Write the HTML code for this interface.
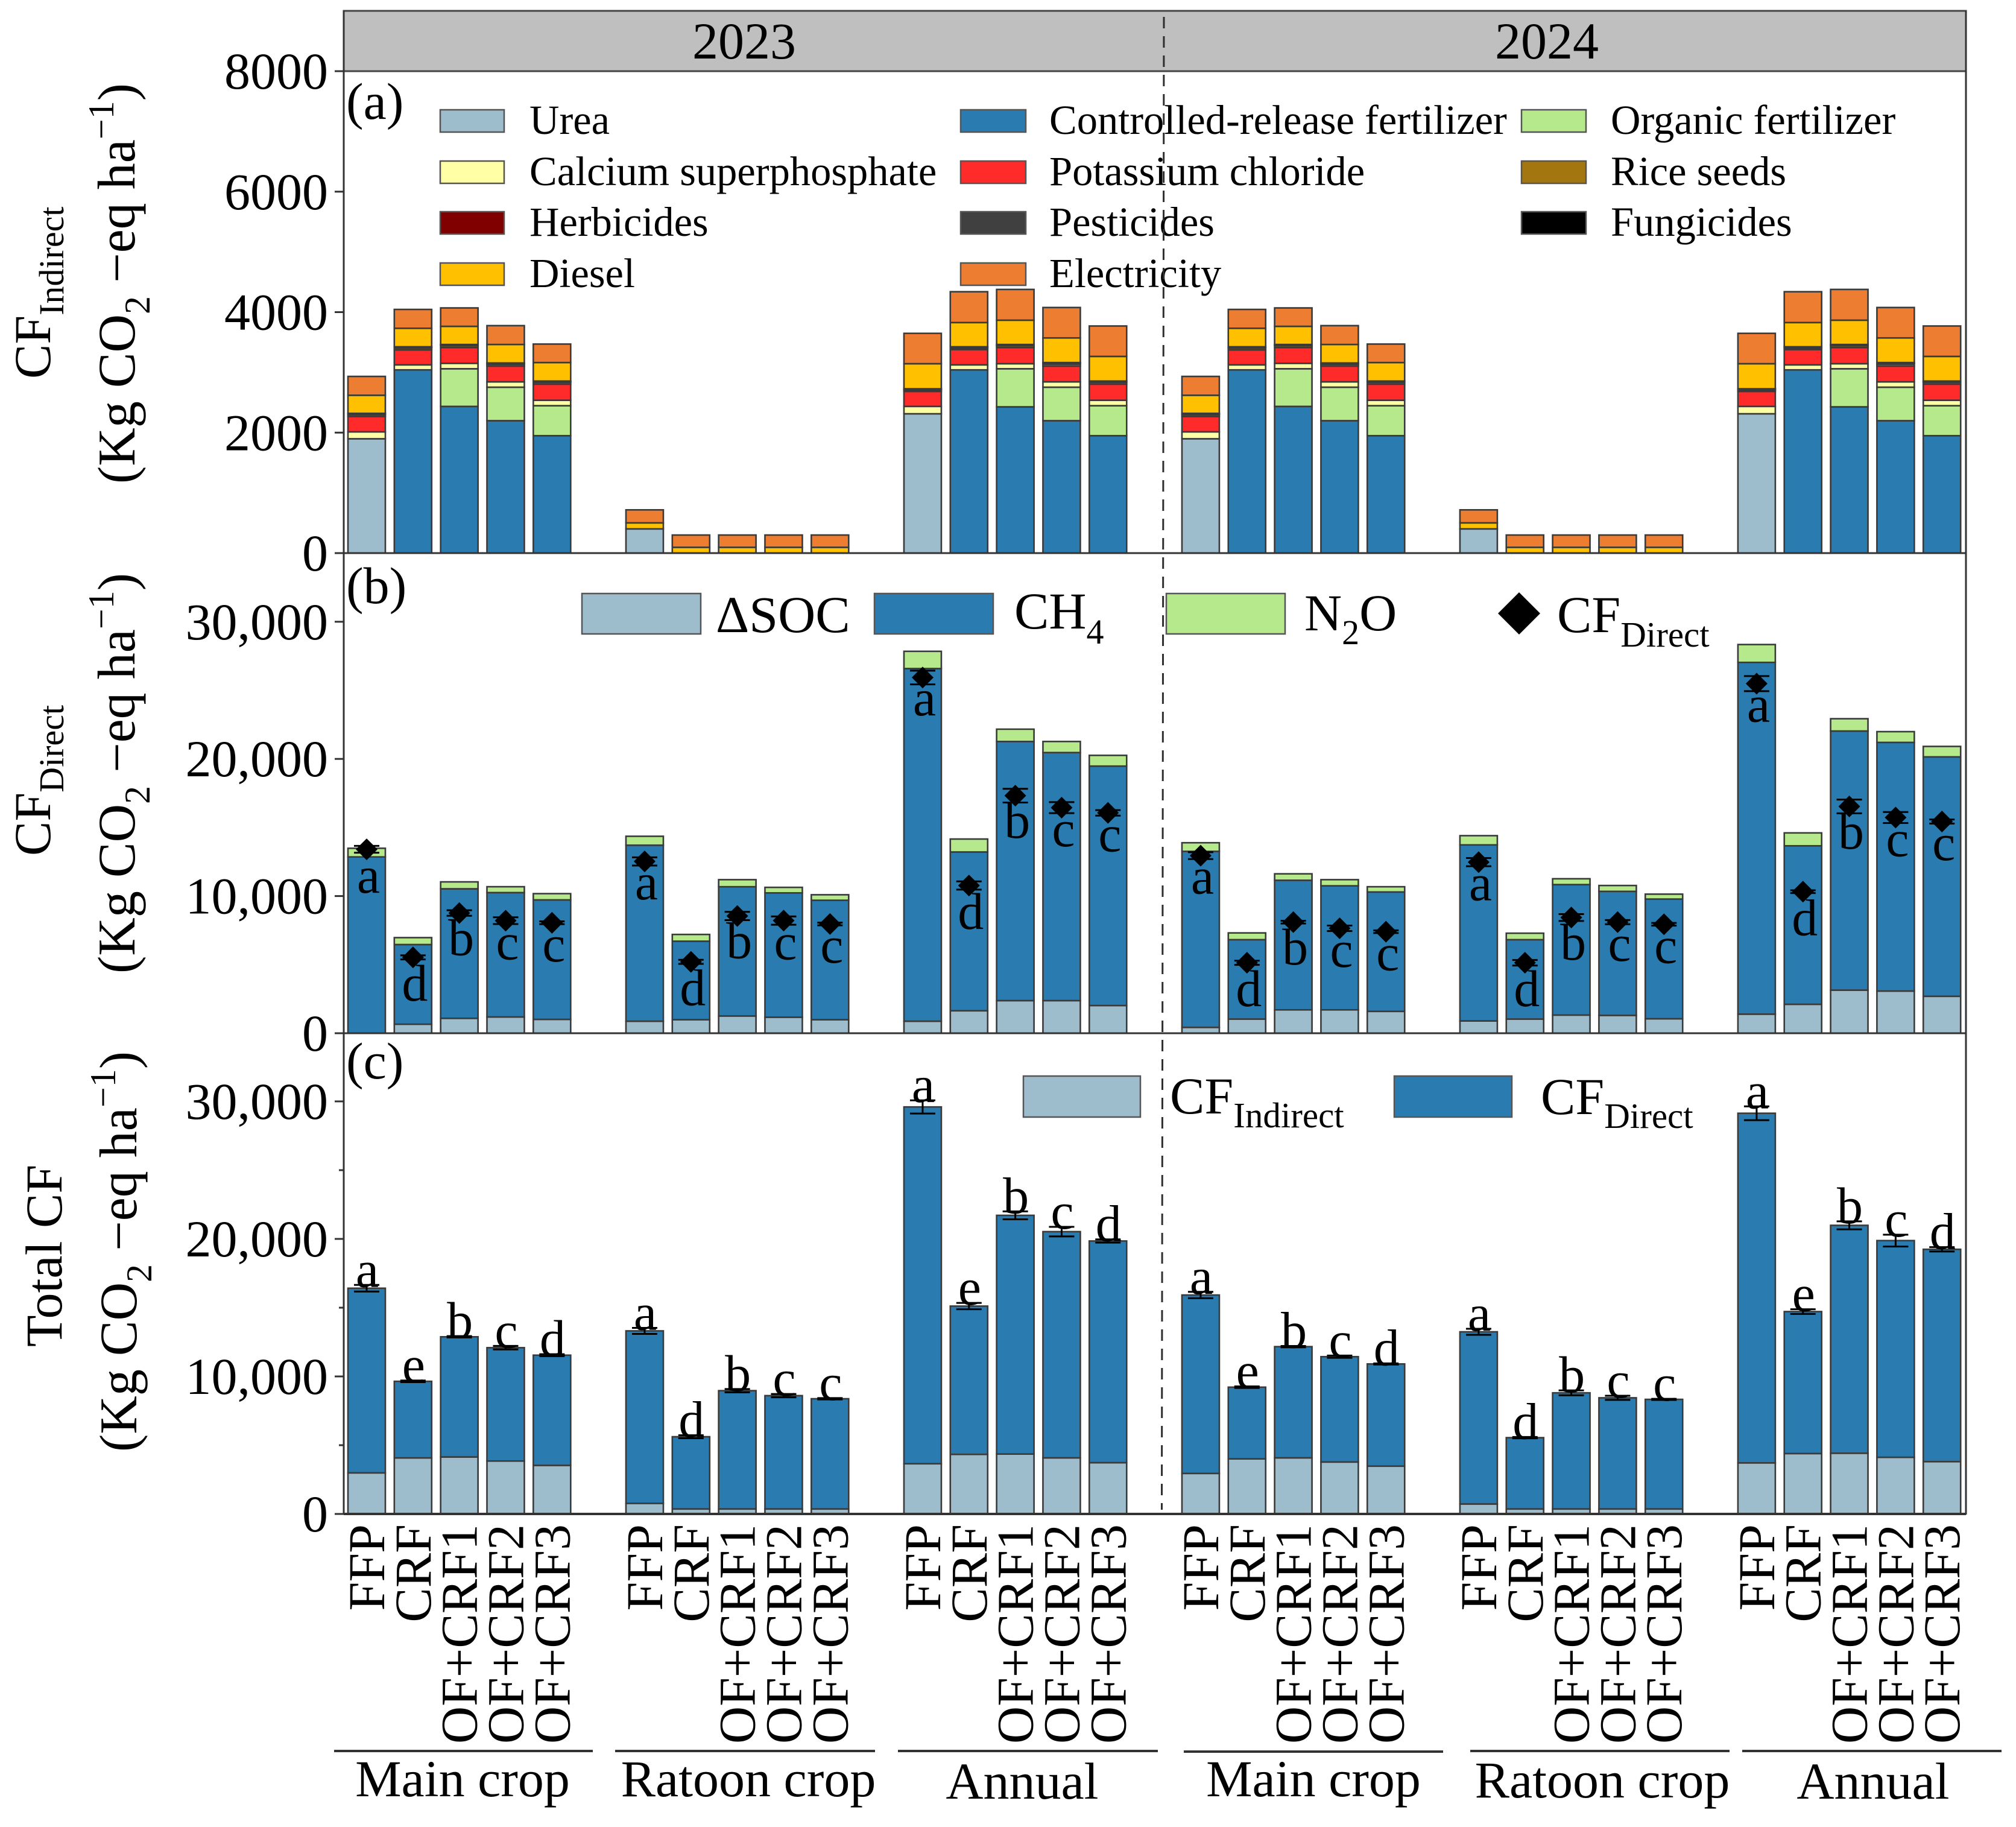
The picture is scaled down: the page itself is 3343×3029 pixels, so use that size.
<!DOCTYPE html>
<html lang="en">
<head>
<meta charset="utf-8">
<title>Carbon footprint stacked bar chart</title>
<style>
html,body{margin:0;padding:0;background:#fff;}
svg{display:block;}
text{font-family:"Liberation Serif",serif;fill:#000;}
</style>
</head>
<body>
<svg id="chart" xmlns="http://www.w3.org/2000/svg" width="3343" height="3029" viewBox="0 0 3343 3029">
  <rect x="0" y="0" width="3343" height="3029" fill="#ffffff"/>
  <g id="bars"></g>

  <g>
    <rect x="570" y="18" width="2690" height="100" fill="#bfbfbf" stroke="#444" stroke-width="3"/>
    <text x="1234" y="97" font-size="86" text-anchor="middle">2023</text>
    <text x="2565" y="97" font-size="86" text-anchor="middle">2024</text>
  </g>

  <g stroke="#333" stroke-width="3" fill="none">
    <line x1="570" y1="18" x2="570" y2="2511"/>
    <line x1="3260" y1="18" x2="3260" y2="2511"/>
    <line x1="570" y1="917" x2="3260" y2="917"/>
    <line x1="570" y1="1713" x2="3260" y2="1713"/>
    <line x1="570" y1="2510" x2="3260" y2="2510" stroke-width="4"/>
  </g>
  <g id="ticks"></g>

  <text x="574" y="197" font-size="86">(a)</text>
  <text x="574" y="1000" font-size="86">(b)</text>
  <text x="574" y="1788" font-size="86">(c)</text>

  <g>
    <text transform="rotate(-90 83 628)" x="83" y="628" font-size="86">CF<tspan font-size="58" dy="22">Indirect</tspan></text>
    <text transform="rotate(-90 223 802)" x="223" y="802" font-size="88">(Kg CO<tspan font-size="60" dy="25">2</tspan><tspan dy="-25"> −eq ha</tspan><tspan font-size="60" dy="-35">−1</tspan><tspan dy="35">)</tspan></text>
  </g>
  <g>
    <text transform="rotate(-90 83 1419)" x="83" y="1419" font-size="86">CF<tspan font-size="58" dy="22">Direct</tspan></text>
    <text transform="rotate(-90 223 1614)" x="223" y="1614" font-size="88">(Kg CO<tspan font-size="60" dy="25">2</tspan><tspan dy="-25"> −eq ha</tspan><tspan font-size="60" dy="-35">−1</tspan><tspan dy="35">)</tspan></text>
  </g>
  <g>
    <text transform="rotate(-90 102 2233)" x="102" y="2233" font-size="86">Total CF</text>
    <text transform="rotate(-90 226 2407)" x="226" y="2407" font-size="88">(Kg CO<tspan font-size="60" dy="25">2</tspan><tspan dy="-25"> −eq ha</tspan><tspan font-size="60" dy="-35">−1</tspan><tspan dy="35">)</tspan></text>
  </g>

  <g>
    <g><rect x="730" y="182" width="106" height="37" fill="#9dbccc" stroke="#555" stroke-width="2.5"/><text x="878" y="222" font-size="68.5">Urea</text></g>
    <g><rect x="730" y="267" width="106" height="37" fill="#ffffa6" stroke="#555" stroke-width="2.5"/><text x="878" y="307" font-size="68.5">Calcium superphosphate</text></g>
    <g><rect x="730" y="351" width="106" height="37" fill="#800000" stroke="#555" stroke-width="2.5"/><text x="878" y="391" font-size="68.5">Herbicides</text></g>
    <g><rect x="730" y="436" width="106" height="37" fill="#ffc000" stroke="#555" stroke-width="2.5"/><text x="878" y="476" font-size="68.5">Diesel</text></g>
    <g><rect x="1593" y="182" width="108" height="37" fill="#2a7cb0" stroke="#555" stroke-width="2.5"/><text x="1740" y="222" font-size="68.5">Controlled-release fertilizer</text></g>
    <g><rect x="1593" y="267" width="108" height="37" fill="#ff2a2a" stroke="#555" stroke-width="2.5"/><text x="1740" y="307" font-size="68.5">Potassium chloride</text></g>
    <g><rect x="1593" y="351" width="108" height="37" fill="#404040" stroke="#555" stroke-width="2.5"/><text x="1740" y="391" font-size="68.5">Pesticides</text></g>
    <g><rect x="1593" y="436" width="108" height="37" fill="#ed7d31" stroke="#555" stroke-width="2.5"/><text x="1740" y="476" font-size="68.5">Electricity</text></g>
    <g><rect x="2523" y="182" width="107" height="37" fill="#b5e98c" stroke="#555" stroke-width="2.5"/><text x="2671" y="222" font-size="68.5">Organic fertilizer</text></g>
    <g><rect x="2523" y="267" width="107" height="37" fill="#a3760f" stroke="#555" stroke-width="2.5"/><text x="2671" y="307" font-size="68.5">Rice seeds</text></g>
    <g><rect x="2523" y="351" width="107" height="37" fill="#000000" stroke="#555" stroke-width="2.5"/><text x="2671" y="391" font-size="68.5">Fungicides</text></g>
  </g>

  <g>
    <g><rect x="965" y="984" width="197" height="67" fill="#9dbccc" stroke="#555" stroke-width="2.5"/><text x="1187" y="1048" font-size="86">ΔSOC</text></g>
    <g><rect x="1450" y="984" width="197" height="67" fill="#2a7cb0" stroke="#555" stroke-width="2.5"/><text x="1682" y="1042" font-size="86">CH<tspan font-size="58" dy="25">4</tspan></text></g>
    <g><rect x="1934" y="984" width="197" height="67" fill="#b5e98c" stroke="#555" stroke-width="2.5"/><text x="2163" y="1045" font-size="86">N<tspan font-size="58" dy="23">2</tspan><tspan dy="-23">O</tspan></text></g>
    <g><polygon points="2484,1017 2519,982 2554,1017 2519,1052" fill="#000"/><text x="2582" y="1048" font-size="86">CF<tspan font-size="59" dy="24">Direct</tspan></text></g>
  </g>

  <g>
    <g><rect x="1697" y="1784" width="194" height="68" fill="#9dbccc" stroke="#555" stroke-width="2.5"/><text x="1940" y="1846" font-size="86">CF<tspan font-size="59" dy="23">Indirect</tspan></text></g>
    <g><rect x="2312" y="1784" width="195" height="68" fill="#2a7cb0" stroke="#555" stroke-width="2.5"/><text x="2555" y="1847" font-size="86">CF<tspan font-size="59" dy="23">Direct</tspan></text></g>
  </g>

  <line x1="1930" y1="28" x2="1926.5" y2="2503" stroke="#2e2e2e" stroke-width="3" stroke-dasharray="19 13"/>

  <g id="xaxis"></g>

  <g stroke="#333" stroke-width="4">
    <line x1="554" y1="2903" x2="983" y2="2903"/>
    <line x1="1020" y1="2903" x2="1451" y2="2903"/>
    <line x1="1489" y1="2903" x2="1920" y2="2903"/>
    <line x1="1963" y1="2904" x2="2393" y2="2904"/>
    <line x1="2438" y1="2903" x2="2868" y2="2903"/>
    <line x1="2889" y1="2903" x2="3319" y2="2903"/>
  </g>
  <g font-size="86" text-anchor="middle">
    <text x="767" y="2978">Main crop</text>
    <text x="1241" y="2978">Ratoon crop</text>
    <text x="1695" y="2982">Annual</text>
    <text x="2178" y="2978">Main crop</text>
    <text x="2657" y="2980">Ratoon crop</text>
    <text x="3106" y="2982">Annual</text>
  </g>
</svg>

<script>
// ---- categories ----
var treatments = ["FFP", "CRF", "OF+CRF1", "OF+CRF2", "OF+CRF3"];

// ---- panel (a) CF indirect, kg CO2-eq/ha, 30 bars ----
var aUrea   = [1898,0,0,0,0, 402,0,0,0,0, 2313,0,0,0,0, 1898,0,0,0,0, 402,0,0,0,0, 2313,0,0,0,0];
var aCrf    = [0,3042,2435,2198,1949, 0,0,0,0,0, 0,3042,2428,2198,1949, 0,3042,2435,2198,1949, 0,0,0,0,0, 0,3042,2428,2198,1949];
var aOrg    = [0,0,625,556,498, 0,0,0,0,0, 0,0,632,556,498, 0,0,625,556,498, 0,0,0,0,0, 0,0,632,556,498];
var aCalc   = [115,83,90,89,90, 0,0,0,0,0, 122,83,84,89,90, 115,83,90,89,90, 0,0,0,0,0, 122,83,84,89,90];
var aKcl    = [255,249,262,262,268, 0,0,0,0,0, 249,255,268,262,268, 255,249,262,262,268, 0,0,0,0,0, 249,255,268,262,268];
var aSeeds  = [30,30,30,30,30, 0,0,0,0,0, 26,26,30,34,30, 30,30,30,30,30, 0,0,0,0,0, 26,26,30,34,30];
var aHerb   = [14,13,13,13,13, 0,0,0,0,0, 12,13,13,16,13, 14,13,13,13,13, 0,0,0,0,0, 12,13,13,16,13];
var aPest   = [4,4,4,4,4, 0,0,0,0,0, 3,3,4,4,4, 4,4,4,4,4, 0,0,0,0,0, 3,3,4,4,4];
var aFung   = [4,4,4,4,4, 0,0,0,0,0, 3,3,4,4,4, 4,4,4,4,4, 0,0,0,0,0, 3,3,4,4,4];
var aDiesel = [300,307,301,307,307, 100,96,96,96,96, 416,402,403,409,409, 300,307,301,307,307, 100,96,96,96,96, 416,402,403,409,409];
var aElec   = [313,313,306,313,307, 216,204,204,204,204, 504,512,511,505,505, 313,313,306,313,307, 216,204,204,204,204, 504,512,511,505,505];

// ---- panel (b) CF direct ----
var bSoc = [0,657,1086,1187,1010, 875,987,1256,1167,987, 875,1638,2378,2378,2019, 426,1032,1705,1705,1593, 897,1032,1324,1301,1055, 1391,2109,3141,3074,2692];
var bCh4 = [12854,5808,9444,9066,8712, 12834,5722,9424,9064,8706, 25712,11577,18892,18084,17456, 12834,5789,9446,9042,8705, 12834,5789,9513,9042,8727, 25645,11555,18892,18129,17456];
var bN2o = [631,505,505,429,455, 651,493,516,404,403, 1257,943,897,808,785, 628,493,471,449,382, 673,471,426,427,359, 1302,942,897,785,763];
var bDirect = [13409,5530,8763,8207,8055, 12525,5205,8548,8212,7965, 25937,10770,17321,16446,16065, 12946,5138,8100,7651,7404, 12475,5138,8436,8100,7943, 25488,10321,16536,15728,15436];
var bError = [250,150,200,250,100, 300,150,300,300,100, 500,300,500,400,200, 250,150,100,200,100, 300,200,250,150,100, 550,100,500,400,150];
var bLetters = ["a","d","b","c","c","a","d","b","c","c","a","d","b","c","c","a","d","b","c","c","a","d","b","c","c","a","d","b","c","c"];

// ---- panel (c) total CF ----
var cIndirect = [2988,4075,4143,3849,3532, 770,362,362,362,362, 3652,4332,4358,4081,3728, 2947,4005,4081,3778,3476, 725,362,362,362,362, 3713,4392,4415,4120,3804];
var cDirect = [13426,5570,8739,8241,8014, 12542,5253,8603,8241,8015, 25945,10781,17355,16448,16121, 12972,5214,8085,7658,7431, 12519,5185,8445,8083,7970, 25424,10324,16572,15758,15440];
var cError = [240,60,50,130,70, 220,110,120,120,50, 480,230,290,350,120, 230,60,50,80,40, 220,50,180,150,40, 500,170,290,430,160];
var cLetters = ["a","e","b","c","d","a","d","b","c","c","a","e","b","c","d","a","e","b","c","d","a","d","b","c","c","a","e","b","c","d"];

// ---- tick labels ----
var aTicks = [0, 2000, 4000, 6000, 8000];
var aTickLabels = ["0", "2000", "4000", "6000", "8000"];
var bTicks = [0, 10000, 20000, 30000];
var bTickLabels = ["0", "10,000", "20,000", "30,000"];
var cTicks = [0, 10000, 20000, 30000];
var cTickLabels = ["0", "10,000", "20,000", "30,000"];
var cMinorTicks = [5000, 15000, 25000];

// ---- axis functions ----
function xCenter(i) { return 608 + 76.83 * i; }
function barIndex(n) { return Math.floor(n / 5) * 6 + (n % 5); }
function yA(v) { return 917 - v * 799 / 8000; }
function yB(v) { return 1713 - v * 227.4 / 10000; }
function yC(v) { return 2510 - v * 228 / 10000; }

var NS = "http://www.w3.org/2000/svg";
var barsLayer = document.getElementById("bars");
var ticksLayer = document.getElementById("ticks");
var xLayer = document.getElementById("xaxis");
function make(tag, attrs, parent) {
  var el = document.createElementNS(NS, tag);
  for (var k in attrs) { el.setAttribute(k, attrs[k]); }
  parent.appendChild(el);
  return el;
}

var BAR_W = 62;
function drawStack(seriesList, yFn, panel) {
  for (var n = 0; n < 30; n++) {
    var cx = xCenter(barIndex(n));
    var base = 0;
    for (var s = 0; s < seriesList.length; s++) {
      var v = seriesList[s].values[n];
      if (v <= 0) { continue; }
      var y1 = yFn(base + v);
      var y0 = yFn(base);
      var r = make("rect", {x: cx - BAR_W / 2, y: y1, width: BAR_W, height: y0 - y1, fill: seriesList[s].color, stroke: "#3a3a3a", "stroke-width": 2.6}, barsLayer);
      
      
      base += v;
    }
  }
}

drawStack([
  {key: "urea", values: aUrea, color: "#9dbccc"},
  {key: "crf", values: aCrf, color: "#2a7cb0"},
  {key: "organic", values: aOrg, color: "#b5e98c"},
  {key: "calcium", values: aCalc, color: "#ffffa6"},
  {key: "potassium", values: aKcl, color: "#ff2a2a"},
  {key: "seeds", values: aSeeds, color: "#a3760f"},
  {key: "herbicides", values: aHerb, color: "#800000"},
  {key: "pesticides", values: aPest, color: "#404040"},
  {key: "fungicides", values: aFung, color: "#000000"},
  {key: "diesel", values: aDiesel, color: "#ffc000"},
  {key: "electricity", values: aElec, color: "#ed7d31"}
], yA, "a");

drawStack([
  {key: "soc", values: bSoc, color: "#9dbccc"},
  {key: "ch4", values: bCh4, color: "#2a7cb0"},
  {key: "n2o", values: bN2o, color: "#b5e98c"}
], yB, "b");

drawStack([
  {key: "indirect", values: cIndirect, color: "#9dbccc"},
  {key: "direct", values: cDirect, color: "#2a7cb0"}
], yC, "c");

function drawError(cx, top, bottom, name) {
  var g = make("g", {stroke: "#000", "stroke-width": 3}, barsLayer);
  
  
  make("line", {x1: cx, y1: top, x2: cx, y2: bottom}, g);
  make("line", {x1: cx - 21, y1: top, x2: cx + 21, y2: top}, g);
  make("line", {x1: cx - 21, y1: bottom, x2: cx + 21, y2: bottom}, g);
}

// diamonds + letters in panel b
var bLetterOffset = {a: 63, b: 70, c: 64, d: 72};
for (var n = 0; n < 30; n++) {
  var cx = xCenter(barIndex(n));
  var dy = yB(bDirect[n]);
  drawError(cx, yB(bDirect[n] + bError[n]), yB(bDirect[n] - bError[n]), 'direct-error-bar-' + n);
  var d = make("polygon", {points: (cx - 18) + "," + dy + " " + cx + "," + (dy - 18) + " " + (cx + 18) + "," + dy + " " + cx + "," + (dy + 18), fill: "#000"}, barsLayer);
  
  
  var off = bLetterOffset[bLetters[n]] + (n === 0 ? 9 : 0);
  var t = make("text", {x: cx + 3, y: dy + off, "font-size": 86, "text-anchor": "middle"}, barsLayer);
  t.textContent = bLetters[n];
  
  
}

// error bars + letters in panel c
for (var m = 0; m < 30; m++) {
  var cxc = xCenter(barIndex(m));
  var total = cIndirect[m] + cDirect[m];
  drawError(cxc, yC(total + cError[m]), yC(total - cError[m]), 'total-error-bar-' + m);
  var tc = make("text", {x: cxc + 1, y: yC(total + cError[m]) + 3, "font-size": 86, "text-anchor": "middle"}, barsLayer);
  tc.textContent = cLetters[m];
  
  
}

function drawTicks(values, labels, yFn, panel) {
  for (var i = 0; i < values.length; i++) {
    var y = yFn(values[i]);
    var l = make("line", {x1: 555, y1: y, x2: 570, y2: y, stroke: "#333", "stroke-width": 3}, ticksLayer);
    
    
    var t = make("text", {x: 544, y: y + 29, "font-size": 86, "text-anchor": "end"}, ticksLayer);
    t.textContent = labels[i];
    
    
  }
}
drawTicks(aTicks, aTickLabels, yA, "a");
drawTicks(bTicks, bTickLabels, yB, "b");
drawTicks(cTicks, cTickLabels, yC, "c");
for (var q = 0; q < cMinorTicks.length; q++) {
  var my = yC(cMinorTicks[q]);
  var ml = make("line", {x1: 562, y1: my, x2: 570, y2: my, stroke: "#333", "stroke-width": 3}, ticksLayer);
  
  
}

// x tick labels
for (var k = 0; k < 30; k++) {
  var kx = xCenter(barIndex(k));
  var bx = kx + 29;
  var lab = make("text", {x: bx, y: 2527, "font-size": 86, "text-anchor": "end", transform: "rotate(-90 " + bx + " 2527)"}, xLayer);
  lab.textContent = treatments[k % 5];
  
  
}
</script>
</body>
</html>
